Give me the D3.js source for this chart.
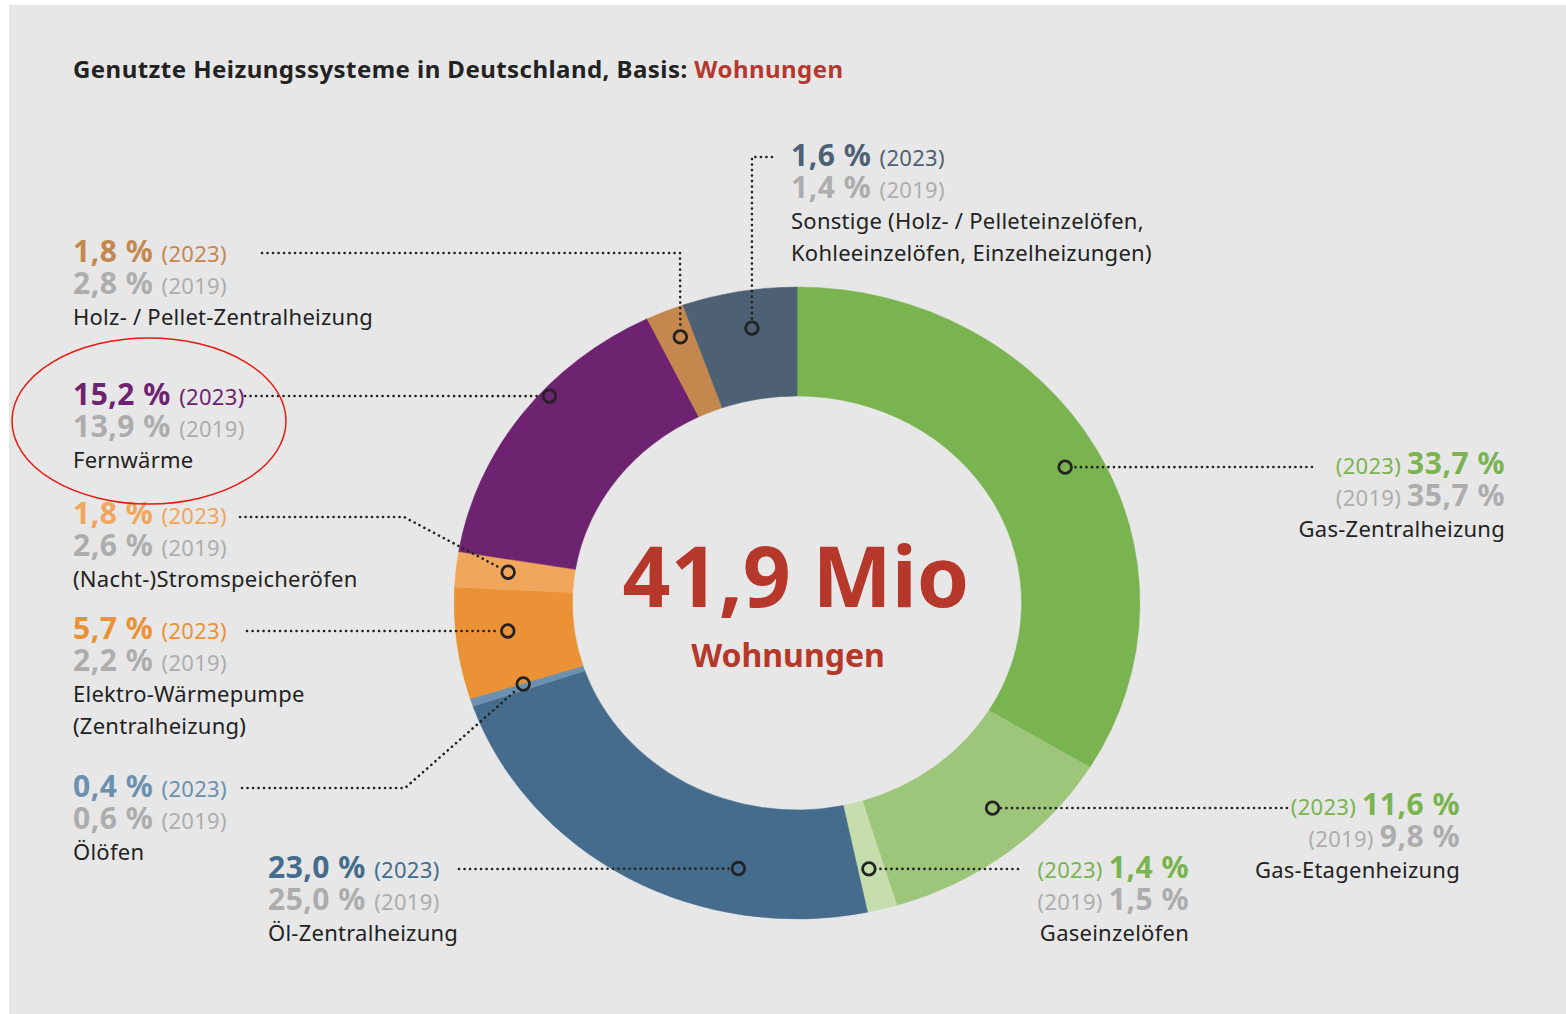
<!DOCTYPE html>
<html>
<head>
<meta charset="utf-8">
<script src="https://cdn.jsdelivr.net/npm/d3@7"></script>
<style>
    body { margin: 0; background: #fff; }
    svg { display: block; }
    text { font-family: "Noto Sans", sans-serif; }
</style>
</head>
<body>
<div id="chart"></div>
<script>

// Data (Anteil der Wohnungen in %)
const categories = ["Gas-Zentralheizung", "Gas-Etagenheizung", "Gaseinzelöfen", "Öl-Zentralheizung", "Ölöfen",
    "Elektro-Wärmepumpe (Zentralheizung)", "(Nacht-)Stromspeicheröfen", "Fernwärme", "Holz- / Pellet-Zentralheizung",
    "Sonstige (Holz- / Pelleteinzelöfen, Kohleeinzelöfen, Einzelheizungen)"]
const share2023 = [33.7, 11.6, 1.4, 23.0, 0.4, 5.7, 1.8, 15.2, 1.8, 1.6]
const share2019 = [35.7, 9.8, 1.5, 25.0, 0.6, 2.2, 2.6, 13.9, 2.8, 1.4]
const totalValue = "41,9 Mio"
const totalUnit = "Wohnungen"

// Styles
const sliceColours = ["#7ab450", "#9dc67a", "#c6deae", "#456c8c", "#6b90b0", "#ea9235", "#f0a65b", "#6e2370", "#c4884e", "#4e6073"]
const labelColours = ["#7ab450", "#7ab450", "#7ab450", "#456c8c", "#6b90b0", "#ea9235", "#f0a65b", "#6e2370", "#c4884e", "#4e6073"]
const grey = "#adadad"
const red = "#b5382b"

// Annotation layout: label anchor, marker (angle in degrees, radius), leader line points
const layout = [
    {x: 1505, y: 474, side: "right", names: ["Gas-Zentralheizung"], marker: [61.2, 282], line: [[1312, 467]]},
    {x: 1460, y: 815, side: "right", names: ["Gas-Etagenheizung"], marker: [138.7, 273], line: [[1287, 808]]},
    {x: 1189, y: 878, side: "right", names: ["Gaseinzelöfen"], marker: [166, 274], line: [[1018, 869]]},
    {x: 268, y: 878, side: "left", names: ["Öl-Zentralheizung"], marker: [191.5, 271], line: [[459, 869]]},
    {x: 73, y: 797, side: "left", names: ["Ölöfen"], marker: [252.2, 265], line: [[242, 788], [405, 788]]},
    {x: 73, y: 639, side: "left", names: ["Elektro-Wärmepumpe", "(Zentralheizung)"], marker: [264, 268], line: [[247, 631]]},
    {x: 73, y: 524, side: "left", names: ["(Nacht-)Stromspeicheröfen"], marker: [276.6, 268], line: [[240, 517], [404, 517]]},
    {x: 73, y: 405, side: "left", names: ["Fernwärme"], marker: [312.2, 308], line: [[245, 396]]},
    {x: 73, y: 262, side: "left", names: ["Holz- / Pellet-Zentralheizung"], marker: [338, 287], line: [[262, 253], [680, 253]]},
    {x: 791, y: 166, side: "left", names: ["Sonstige (Holz- / Pelleteinzelöfen,", "Kohleeinzelöfen, Einzelheizungen)"], marker: [351.4, 278], line: [[772, 157], [752, 157]]}
]

const width = 1566, height = 1014
const cx = 797, cy = 603
const stretchX = 1.085
const outerR = 316, innerR = 207

const svg = d3.select("#chart").append("svg")
    .attr("width", width)
    .attr("height", height)

svg.append("rect")
    .attr("x", 9).attr("y", 5)
    .attr("width", width - 9).attr("height", height - 5)
    .attr("fill", "#e7e7e7")

// Title
let title = svg.append("text")
    .attr("x", 73).attr("y", 78)
    .style("font-size", "24px")
    .style("font-weight", "bold")
    .style("letter-spacing", "0.45px")
    .attr("fill", "#222")
title.append("tspan").text("Genutzte Heizungssysteme in Deutschland, Basis: ")
title.append("tspan").attr("fill", red).text("Wohnungen")

// Angle scale: 100 % = full circle
let angleScale = d3.scaleLinear().domain([0, 100]).range([0, 2 * Math.PI])

let cum = d3.cumsum(share2023)
let slices = share2023.map((v, i) => ({
    i: i,
    start: i == 0 ? 0 : cum[i - 1],
    // last slice (Sonstige) fills the ring up to 100 %
    end: i == share2023.length - 1 ? 100 : cum[i]
}))

let arc = d3.arc()
    .innerRadius(innerR)
    .outerRadius(outerR)
    .startAngle(d => angleScale(d.start))
    .endAngle(d => angleScale(d.end))

svg.append("g")
    .attr("transform", `translate(${cx},${cy}) scale(${stretchX},1)`)
    .selectAll("path")
    .data(slices)
    .enter()
    .append("path")
    .attr("d", arc)
    .attr("fill", d => sliceColours[d.i])
    .attr("stroke", d => sliceColours[d.i])
    .attr("stroke-width", 0.5)

// Centre text
svg.append("text")
    .attr("x", cx - 1).attr("y", 607)
    .attr("text-anchor", "middle")
    .style("font-size", "84px")
    .style("font-weight", "bold")
    .attr("fill", red)
    .text(totalValue)

svg.append("text")
    .attr("x", cx - 9).attr("y", 667)
    .attr("text-anchor", "middle")
    .style("font-size", "32px")
    .style("font-weight", "bold")
    .attr("fill", red)
    .text(totalUnit)

// helpers
const de = d3.formatLocale({decimal: ",", thousands: ".", grouping: [3], currency: ["", "€"]})
const fmt = v => de.format(".1f")(v) + " %"

function polar(deg, r){
    let a = deg * Math.PI / 180
    return [cx + stretchX * r * Math.sin(a), cy - r * Math.cos(a)]
}

const markerR = 6.3

// Leader lines + markers
let annot = svg.append("g").attr("id", "annotations")

layout.forEach((l, i) => {
    let m = polar(l.marker[0], l.marker[1])
    let pts = l.line.slice()
    let last = pts[pts.length - 1]
    let dx = m[0] - last[0], dy = m[1] - last[1]
    let len = Math.sqrt(dx * dx + dy * dy)
    let endPt = [m[0] - dx / len * (markerR + 2), m[1] - dy / len * (markerR + 2)]
    pts.push(endPt)

    annot.append("path")
        .attr("d", d3.line()(pts))
        .attr("fill", "none")
        .attr("stroke", "#222")
        .attr("stroke-width", 2.6)
        .attr("stroke-linecap", "round")
        .attr("stroke-dasharray", "0.1 5.4")

    annot.append("circle")
        .attr("cx", m[0]).attr("cy", m[1])
        .attr("r", markerR)
        .attr("fill", "none")
        .attr("stroke", "#222")
        .attr("stroke-width", 2.8)
})

// Labels
layout.forEach((l, i) => {
    let g = annot.append("g")
    let anchor = l.side == "right" ? "end" : "start"
    let rows = [[share2023[i], "(2023)", labelColours[i]], [share2019[i], "(2019)", grey]]

    rows.forEach((r, k) => {
        let t = g.append("text")
            .attr("x", l.x).attr("y", l.y + k * 32)
            .attr("text-anchor", anchor)
            .attr("fill", r[2])
        if(l.side == "right"){
            t.append("tspan").style("font-size", "22px").style("letter-spacing", "0.3px").text(r[1] + " ")
            t.append("tspan").style("font-size", "30px").style("font-weight", "bold").style("letter-spacing", "0.5px").text(fmt(r[0]))
        }
        else{
            t.append("tspan").style("font-size", "30px").style("font-weight", "bold").style("letter-spacing", "0.5px").text(fmt(r[0]) + " ")
            t.append("tspan").style("font-size", "22px").style("letter-spacing", "0.3px").text(r[1])
        }
    })

    l.names.forEach((n, k) => {
        g.append("text")
            .attr("x", l.x).attr("y", l.y + 63 + k * 32)
            .attr("text-anchor", anchor)
            .style("font-size", "22px")
            .style("letter-spacing", "0.25px")
            .attr("fill", "#222")
            .text(n)
    })
})

// Red highlight ellipse round Fernwärme
svg.append("ellipse")
    .attr("cx", 149).attr("cy", 421)
    .attr("rx", 137).attr("ry", 83)
    .attr("fill", "none")
    .attr("stroke", "#e8190f")
    .attr("stroke-width", 1.5)

</script>
</body>
</html>
